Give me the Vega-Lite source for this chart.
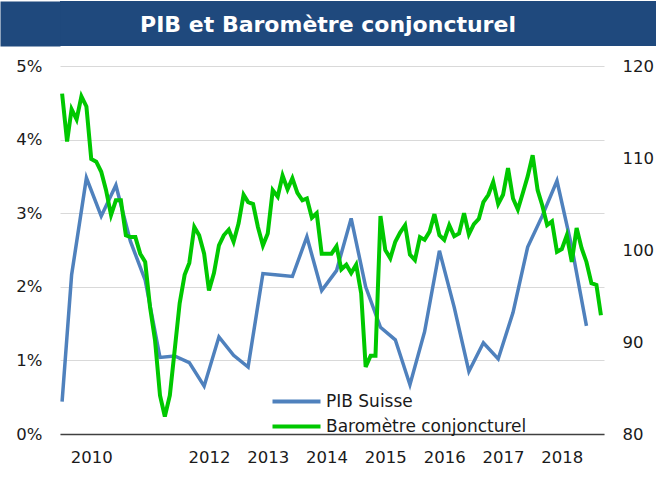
{
  "$schema": "https://vega.github.io/schema/vega-lite/v6.json",
  "padding": {"left": 0, "top": 1, "right": 0, "bottom": 0},
  "background": "white",
  "spacing": 12,
  "config": {"view": {"stroke": null}, "font": "DejaVu Sans"},
  "datasets": {
    "titre": [{"texte": "PIB et Baromètre conjoncturel"}],
    "pib": [
      {"date": "2010-01-01", "croissance": 0.0044, "serie": "PIB Suisse"},
      {"date": "2010-03-01", "croissance": 0.0216, "serie": "PIB Suisse"},
      {"date": "2010-06-01", "croissance": 0.0348, "serie": "PIB Suisse"},
      {"date": "2010-09-01", "croissance": 0.0296, "serie": "PIB Suisse"},
      {"date": "2010-12-01", "croissance": 0.0338, "serie": "PIB Suisse"},
      {"date": "2011-03-01", "croissance": 0.0262, "serie": "PIB Suisse"},
      {"date": "2011-06-01", "croissance": 0.0209, "serie": "PIB Suisse"},
      {"date": "2011-09-01", "croissance": 0.0104, "serie": "PIB Suisse"},
      {"date": "2011-12-01", "croissance": 0.0106, "serie": "PIB Suisse"},
      {"date": "2012-03-01", "croissance": 0.0097, "serie": "PIB Suisse"},
      {"date": "2012-06-01", "croissance": 0.0065, "serie": "PIB Suisse"},
      {"date": "2012-09-01", "croissance": 0.0132, "serie": "PIB Suisse"},
      {"date": "2012-12-01", "croissance": 0.0107, "serie": "PIB Suisse"},
      {"date": "2013-03-01", "croissance": 0.0091, "serie": "PIB Suisse"},
      {"date": "2013-06-01", "croissance": 0.0218, "serie": "PIB Suisse"},
      {"date": "2013-09-01", "croissance": 0.0216, "serie": "PIB Suisse"},
      {"date": "2013-12-01", "croissance": 0.0214, "serie": "PIB Suisse"},
      {"date": "2014-03-01", "croissance": 0.0268, "serie": "PIB Suisse"},
      {"date": "2014-06-01", "croissance": 0.0195, "serie": "PIB Suisse"},
      {"date": "2014-09-01", "croissance": 0.0222, "serie": "PIB Suisse"},
      {"date": "2014-12-01", "croissance": 0.0293, "serie": "PIB Suisse"},
      {"date": "2015-03-01", "croissance": 0.0200, "serie": "PIB Suisse"},
      {"date": "2015-06-01", "croissance": 0.0145, "serie": "PIB Suisse"},
      {"date": "2015-09-01", "croissance": 0.0128, "serie": "PIB Suisse"},
      {"date": "2015-12-01", "croissance": 0.0067, "serie": "PIB Suisse"},
      {"date": "2016-03-01", "croissance": 0.0139, "serie": "PIB Suisse"},
      {"date": "2016-06-01", "croissance": 0.0249, "serie": "PIB Suisse"},
      {"date": "2016-09-01", "croissance": 0.0172, "serie": "PIB Suisse"},
      {"date": "2016-12-01", "croissance": 0.0085, "serie": "PIB Suisse"},
      {"date": "2017-03-01", "croissance": 0.0124, "serie": "PIB Suisse"},
      {"date": "2017-06-01", "croissance": 0.0102, "serie": "PIB Suisse"},
      {"date": "2017-09-01", "croissance": 0.0165, "serie": "PIB Suisse"},
      {"date": "2017-12-01", "croissance": 0.0254, "serie": "PIB Suisse"},
      {"date": "2018-03-01", "croissance": 0.0296, "serie": "PIB Suisse"},
      {"date": "2018-06-01", "croissance": 0.0344, "serie": "PIB Suisse"},
      {"date": "2018-09-01", "croissance": 0.0254, "serie": "PIB Suisse"},
      {"date": "2018-12-01", "croissance": 0.0147, "serie": "PIB Suisse"}
    ],
    "barometre": [
      {"date": "2010-01-01", "indice": 117.0, "serie": "Baromètre conjoncturel"},
      {"date": "2010-02-01", "indice": 111.8, "serie": "Baromètre conjoncturel"},
      {"date": "2010-03-01", "indice": 115.3, "serie": "Baromètre conjoncturel"},
      {"date": "2010-04-01", "indice": 114.2, "serie": "Baromètre conjoncturel"},
      {"date": "2010-05-01", "indice": 116.7, "serie": "Baromètre conjoncturel"},
      {"date": "2010-06-01", "indice": 115.6, "serie": "Baromètre conjoncturel"},
      {"date": "2010-07-01", "indice": 109.9, "serie": "Baromètre conjoncturel"},
      {"date": "2010-08-01", "indice": 109.6, "serie": "Baromètre conjoncturel"},
      {"date": "2010-09-01", "indice": 108.5, "serie": "Baromètre conjoncturel"},
      {"date": "2010-10-01", "indice": 106.5, "serie": "Baromètre conjoncturel"},
      {"date": "2010-11-01", "indice": 103.8, "serie": "Baromètre conjoncturel"},
      {"date": "2010-12-01", "indice": 105.4, "serie": "Baromètre conjoncturel"},
      {"date": "2011-01-01", "indice": 105.4, "serie": "Baromètre conjoncturel"},
      {"date": "2011-02-01", "indice": 101.6, "serie": "Baromètre conjoncturel"},
      {"date": "2011-03-01", "indice": 101.4, "serie": "Baromètre conjoncturel"},
      {"date": "2011-04-01", "indice": 101.4, "serie": "Baromètre conjoncturel"},
      {"date": "2011-05-01", "indice": 99.6, "serie": "Baromètre conjoncturel"},
      {"date": "2011-06-01", "indice": 98.7, "serie": "Baromètre conjoncturel"},
      {"date": "2011-07-01", "indice": 93.8, "serie": "Baromètre conjoncturel"},
      {"date": "2011-08-01", "indice": 90.2, "serie": "Baromètre conjoncturel"},
      {"date": "2011-09-01", "indice": 84.2, "serie": "Baromètre conjoncturel"},
      {"date": "2011-10-01", "indice": 81.9, "serie": "Baromètre conjoncturel"},
      {"date": "2011-11-01", "indice": 84.2, "serie": "Baromètre conjoncturel"},
      {"date": "2011-12-01", "indice": 89.1, "serie": "Baromètre conjoncturel"},
      {"date": "2012-01-01", "indice": 94.2, "serie": "Baromètre conjoncturel"},
      {"date": "2012-02-01", "indice": 97.3, "serie": "Baromètre conjoncturel"},
      {"date": "2012-03-01", "indice": 98.6, "serie": "Baromètre conjoncturel"},
      {"date": "2012-04-01", "indice": 102.5, "serie": "Baromètre conjoncturel"},
      {"date": "2012-05-01", "indice": 101.6, "serie": "Baromètre conjoncturel"},
      {"date": "2012-06-01", "indice": 99.6, "serie": "Baromètre conjoncturel"},
      {"date": "2012-07-01", "indice": 95.6, "serie": "Baromètre conjoncturel"},
      {"date": "2012-08-01", "indice": 97.5, "serie": "Baromètre conjoncturel"},
      {"date": "2012-09-01", "indice": 100.5, "serie": "Baromètre conjoncturel"},
      {"date": "2012-10-01", "indice": 101.6, "serie": "Baromètre conjoncturel"},
      {"date": "2012-11-01", "indice": 102.2, "serie": "Baromètre conjoncturel"},
      {"date": "2012-12-01", "indice": 100.9, "serie": "Baromètre conjoncturel"},
      {"date": "2013-01-01", "indice": 102.9, "serie": "Baromètre conjoncturel"},
      {"date": "2013-02-01", "indice": 106.0, "serie": "Baromètre conjoncturel"},
      {"date": "2013-03-01", "indice": 105.2, "serie": "Baromètre conjoncturel"},
      {"date": "2013-04-01", "indice": 105.0, "serie": "Baromètre conjoncturel"},
      {"date": "2013-05-01", "indice": 102.5, "serie": "Baromètre conjoncturel"},
      {"date": "2013-06-01", "indice": 100.5, "serie": "Baromètre conjoncturel"},
      {"date": "2013-07-01", "indice": 101.8, "serie": "Baromètre conjoncturel"},
      {"date": "2013-08-01", "indice": 106.5, "serie": "Baromètre conjoncturel"},
      {"date": "2013-09-01", "indice": 105.8, "serie": "Baromètre conjoncturel"},
      {"date": "2013-10-01", "indice": 108.1, "serie": "Baromètre conjoncturel"},
      {"date": "2013-11-01", "indice": 106.6, "serie": "Baromètre conjoncturel"},
      {"date": "2013-12-01", "indice": 107.8, "serie": "Baromètre conjoncturel"},
      {"date": "2014-01-01", "indice": 106.2, "serie": "Baromètre conjoncturel"},
      {"date": "2014-02-01", "indice": 105.4, "serie": "Baromètre conjoncturel"},
      {"date": "2014-03-01", "indice": 105.6, "serie": "Baromètre conjoncturel"},
      {"date": "2014-04-01", "indice": 103.5, "serie": "Baromètre conjoncturel"},
      {"date": "2014-05-01", "indice": 104.0, "serie": "Baromètre conjoncturel"},
      {"date": "2014-06-01", "indice": 99.6, "serie": "Baromètre conjoncturel"},
      {"date": "2014-07-01", "indice": 99.6, "serie": "Baromètre conjoncturel"},
      {"date": "2014-08-01", "indice": 99.6, "serie": "Baromètre conjoncturel"},
      {"date": "2014-09-01", "indice": 100.4, "serie": "Baromètre conjoncturel"},
      {"date": "2014-10-01", "indice": 97.9, "serie": "Baromètre conjoncturel"},
      {"date": "2014-11-01", "indice": 98.4, "serie": "Baromètre conjoncturel"},
      {"date": "2014-12-01", "indice": 97.5, "serie": "Baromètre conjoncturel"},
      {"date": "2015-01-01", "indice": 98.4, "serie": "Baromètre conjoncturel"},
      {"date": "2015-02-01", "indice": 95.3, "serie": "Baromètre conjoncturel"},
      {"date": "2015-03-01", "indice": 87.3, "serie": "Baromètre conjoncturel"},
      {"date": "2015-04-01", "indice": 88.5, "serie": "Baromètre conjoncturel"},
      {"date": "2015-05-01", "indice": 88.5, "serie": "Baromètre conjoncturel"},
      {"date": "2015-06-01", "indice": 103.7, "serie": "Baromètre conjoncturel"},
      {"date": "2015-07-01", "indice": 100.0, "serie": "Baromètre conjoncturel"},
      {"date": "2015-08-01", "indice": 99.1, "serie": "Baromètre conjoncturel"},
      {"date": "2015-09-01", "indice": 100.9, "serie": "Baromètre conjoncturel"},
      {"date": "2015-10-01", "indice": 101.9, "serie": "Baromètre conjoncturel"},
      {"date": "2015-11-01", "indice": 102.7, "serie": "Baromètre conjoncturel"},
      {"date": "2015-12-01", "indice": 99.5, "serie": "Baromètre conjoncturel"},
      {"date": "2016-01-01", "indice": 98.9, "serie": "Baromètre conjoncturel"},
      {"date": "2016-02-01", "indice": 101.4, "serie": "Baromètre conjoncturel"},
      {"date": "2016-03-01", "indice": 101.1, "serie": "Baromètre conjoncturel"},
      {"date": "2016-04-01", "indice": 102.0, "serie": "Baromètre conjoncturel"},
      {"date": "2016-05-01", "indice": 103.9, "serie": "Baromètre conjoncturel"},
      {"date": "2016-06-01", "indice": 101.6, "serie": "Baromètre conjoncturel"},
      {"date": "2016-07-01", "indice": 101.1, "serie": "Baromètre conjoncturel"},
      {"date": "2016-08-01", "indice": 102.7, "serie": "Baromètre conjoncturel"},
      {"date": "2016-09-01", "indice": 101.5, "serie": "Baromètre conjoncturel"},
      {"date": "2016-10-01", "indice": 101.8, "serie": "Baromètre conjoncturel"},
      {"date": "2016-11-01", "indice": 104.0, "serie": "Baromètre conjoncturel"},
      {"date": "2016-12-01", "indice": 101.7, "serie": "Baromètre conjoncturel"},
      {"date": "2017-01-01", "indice": 102.8, "serie": "Baromètre conjoncturel"},
      {"date": "2017-02-01", "indice": 103.4, "serie": "Baromètre conjoncturel"},
      {"date": "2017-03-01", "indice": 105.2, "serie": "Baromètre conjoncturel"},
      {"date": "2017-04-01", "indice": 106.0, "serie": "Baromètre conjoncturel"},
      {"date": "2017-05-01", "indice": 107.4, "serie": "Baromètre conjoncturel"},
      {"date": "2017-06-01", "indice": 105.0, "serie": "Baromètre conjoncturel"},
      {"date": "2017-07-01", "indice": 106.0, "serie": "Baromètre conjoncturel"},
      {"date": "2017-08-01", "indice": 108.9, "serie": "Baromètre conjoncturel"},
      {"date": "2017-09-01", "indice": 105.6, "serie": "Baromètre conjoncturel"},
      {"date": "2017-10-01", "indice": 104.4, "serie": "Baromètre conjoncturel"},
      {"date": "2017-11-01", "indice": 106.2, "serie": "Baromètre conjoncturel"},
      {"date": "2017-12-01", "indice": 108.0, "serie": "Baromètre conjoncturel"},
      {"date": "2018-01-01", "indice": 110.3, "serie": "Baromètre conjoncturel"},
      {"date": "2018-02-01", "indice": 106.5, "serie": "Baromètre conjoncturel"},
      {"date": "2018-03-01", "indice": 104.9, "serie": "Baromètre conjoncturel"},
      {"date": "2018-04-01", "indice": 102.7, "serie": "Baromètre conjoncturel"},
      {"date": "2018-05-01", "indice": 103.1, "serie": "Baromètre conjoncturel"},
      {"date": "2018-06-01", "indice": 99.8, "serie": "Baromètre conjoncturel"},
      {"date": "2018-07-01", "indice": 100.1, "serie": "Baromètre conjoncturel"},
      {"date": "2018-08-01", "indice": 101.6, "serie": "Baromètre conjoncturel"},
      {"date": "2018-09-01", "indice": 98.7, "serie": "Baromètre conjoncturel"},
      {"date": "2018-10-01", "indice": 102.4, "serie": "Baromètre conjoncturel"},
      {"date": "2018-11-01", "indice": 100.2, "serie": "Baromètre conjoncturel"},
      {"date": "2018-12-01", "indice": 98.7, "serie": "Baromètre conjoncturel"},
      {"date": "2019-01-01", "indice": 96.4, "serie": "Baromètre conjoncturel"},
      {"date": "2019-02-01", "indice": 96.2, "serie": "Baromètre conjoncturel"},
      {"date": "2019-03-01", "indice": 92.9, "serie": "Baromètre conjoncturel"}
    ]
  },
  "vconcat": [
    {
      "width": 596,
      "height": 45,
      "view": {"fill": "#1F497D", "stroke": null},
      "data": {"name": "titre"},
      "mark": {"type": "text", "font": "DejaVu Sans", "fontWeight": "bold", "fontSize": 22, "color": "#FFFFFF", "align": "center", "baseline": "middle", "dx": -30, "dy": 1.5},
      "encoding": {
        "text": {"field": "texte"},
        "y": {
          "datum": 0.5,
          "type": "quantitative",
          "scale": {"domain": [0, 1]},
          "axis": {
            "orient": "left",
            "title": null,
            "labels": false,
            "ticks": false,
            "grid": false,
            "domain": true,
            "domainColor": "#1F497D",
            "domainWidth": 60,
            "domainCap": "butt",
            "offset": 30,
            "minExtent": 0,
            "maxExtent": 0
          }
        }
      }
    },
    {
      "width": 544,
      "height": 368,
      "resolve": {"scale": {"y": "independent"}},
      "encoding": {
        "x": {
          "field": "date",
          "type": "temporal",
          "scale": {"type": "utc", "domain": [{"year": 2009, "month": 12, "date": 19, "utc": true}, {"year": 2019, "month": 3, "date": 20, "utc": true}]},
          "axis": {
            "title": null,
            "grid": false,
            "ticks": false,
            "tickSize": 0,
            "values": [
              {"year": 2010, "month": 7, "date": 1, "utc": true},
              {"year": 2012, "month": 7, "date": 1, "utc": true},
              {"year": 2013, "month": 7, "date": 1, "utc": true},
              {"year": 2014, "month": 7, "date": 1, "utc": true},
              {"year": 2015, "month": 7, "date": 1, "utc": true},
              {"year": 2016, "month": 7, "date": 1, "utc": true},
              {"year": 2017, "month": 7, "date": 1, "utc": true},
              {"year": 2018, "month": 7, "date": 1, "utc": true}
            ],
            "labelExpr": "utcFormat(datum.value, '%Y')",
            "labelOverlap": false,
            "labelFont": "DejaVu Sans",
            "labelFontSize": 16.5,
            "labelColor": "#1A1A1A",
            "labelPadding": 15,
            "domainColor": "#404040",
            "domainWidth": 1.5
          }
        }
      },
      "layer": [
        {
          "data": {"name": "pib"},
          "mark": {"type": "line", "strokeWidth": 3.5, "clip": true},
          "encoding": {
            "y": {
              "field": "croissance",
              "type": "quantitative",
              "scale": {"domain": [0, 0.05]},
              "axis": {
                "orient": "left",
                "title": null,
                "values": [0, 0.01, 0.02, 0.03, 0.04, 0.05],
                "format": ".0%",
                "domain": false,
                "ticks": false,
                "tickSize": 0,
                "grid": true,
                "gridColor": "#D9D9D9",
                "gridWidth": 1,
                "labelPadding": 18,
                "minExtent": 60,
                "maxExtent": 60,
                "labelFont": "DejaVu Sans",
                "labelFontSize": 16.5,
                "labelColor": "#1A1A1A"
              }
            },
            "color": {
              "field": "serie",
              "type": "nominal",
              "scale": {"domain": ["PIB Suisse", "Baromètre conjoncturel"], "range": ["#4F81BD", "#00C800"]},
              "legend": {
                "orient": "none",
                "legendX": 204,
                "legendY": 392,
                "title": null,
                "padding": 0,
                "symbolType": "M0,0H8",
                "symbolSize": 144,
                "symbolStrokeWidth": 4,
                "labelFont": "DejaVu Sans",
                "labelFontSize": 17,
                "labelColor": "#1A1A1A",
                "labelLimit": 400,
                "labelOffset": 45,
                "rowPadding": 7
              }
            }
          }
        },
        {
          "data": {"name": "barometre"},
          "mark": {"type": "line", "strokeWidth": 4, "clip": true},
          "encoding": {
            "y": {
              "field": "indice",
              "type": "quantitative",
              "scale": {"domain": [80, 120]},
              "axis": {
                "orient": "right",
                "title": null,
                "values": [80, 90, 100, 110, 120],
                "domain": false,
                "ticks": false,
                "tickSize": 0,
                "grid": false,
                "labelPadding": 18,
                "labelFont": "DejaVu Sans",
                "labelFontSize": 16.5,
                "labelColor": "#1A1A1A"
              }
            },
            "color": {
              "field": "serie",
              "type": "nominal",
              "scale": {"domain": ["PIB Suisse", "Baromètre conjoncturel"], "range": ["#4F81BD", "#00C800"]},
              "legend": {
                "orient": "none",
                "legendX": 204,
                "legendY": 392,
                "title": null,
                "padding": 0,
                "symbolType": "M0,0H8",
                "symbolSize": 144,
                "symbolStrokeWidth": 4,
                "labelFont": "DejaVu Sans",
                "labelFontSize": 17,
                "labelColor": "#1A1A1A",
                "labelLimit": 400,
                "labelOffset": 45,
                "rowPadding": 7
              }
            }
          }
        }
      ]
    }
  ]
}
